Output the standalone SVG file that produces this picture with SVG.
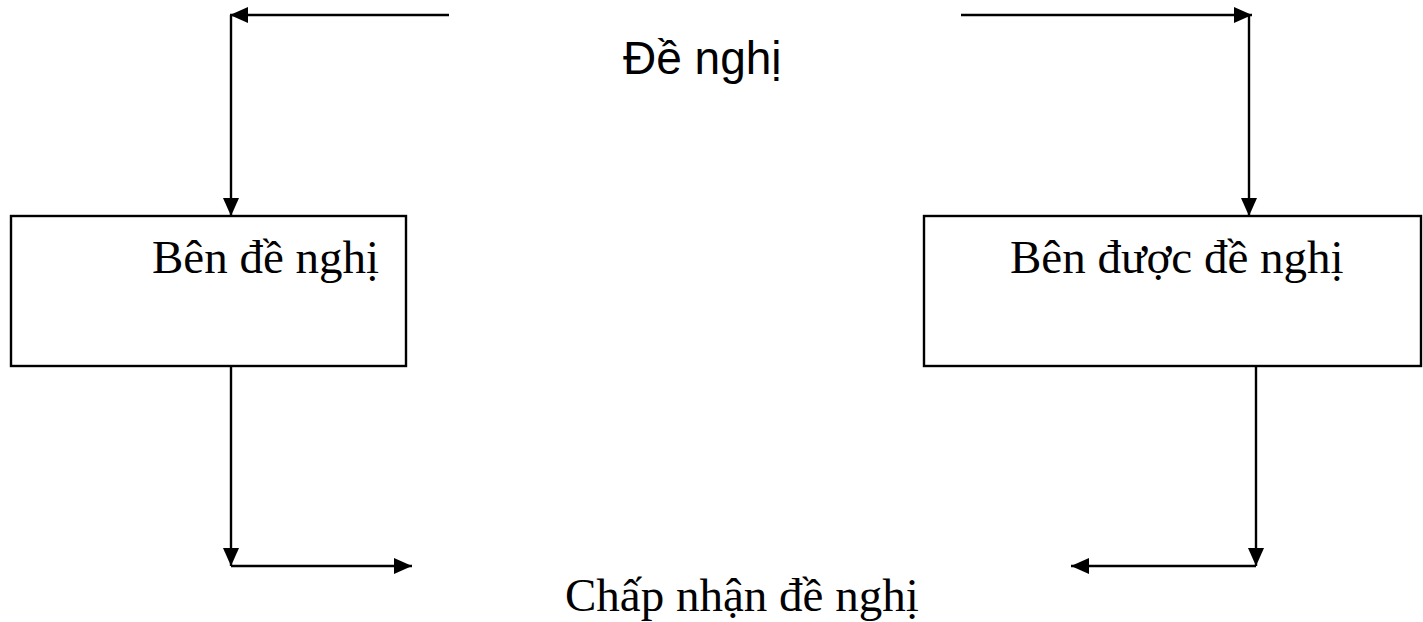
<svg xmlns="http://www.w3.org/2000/svg" width="1423" height="622" viewBox="0 0 1423 622">
<style>
.ln{fill:none;stroke:#000;stroke-width:2.4}
.box{fill:#fff;stroke:#000;stroke-width:2.4}
.serif{font-family:"Liberation Serif","Times New Roman",serif;font-size:47px;fill:#000}
.sans{font-family:"Liberation Sans",Arial,sans-serif;font-size:46px;fill:#000}
</style>
<defs>
<marker id="ah" viewBox="0 0 18 16" refX="18" refY="8" markerWidth="18" markerHeight="16" markerUnits="userSpaceOnUse" orient="auto">
<path d="M0,0 L18,8 L0,16 Z" fill="#000"/>
</marker>
</defs>
<g id="connectors">
<path class="ln" d="M449,15 L230,15" marker-end="url(#ah)"/>
<path class="ln" d="M231,15 L231,216" marker-end="url(#ah)"/>
<path class="ln" d="M961,15 L1252,15" marker-end="url(#ah)"/>
<path class="ln" d="M1249,15 L1249,216" marker-end="url(#ah)"/>
<path class="ln" d="M231,366 L231,566" marker-end="url(#ah)"/>
<path class="ln" d="M231,566 L412,566" marker-end="url(#ah)"/>
<path class="ln" d="M1256,366 L1256,566" marker-end="url(#ah)"/>
<path class="ln" d="M1256,566 L1071,566" marker-end="url(#ah)"/>
</g>
<g id="label-de-nghi">
<text class="sans" x="623" y="74">Đề nghị</text>
</g>
<g id="node-ben-de-nghi">
<rect class="box" x="11" y="216" width="395" height="150"/>
<text class="serif" x="152" y="273">Bên đề nghị</text>
</g>
<g id="node-ben-duoc-de-nghi">
<rect class="box" x="924" y="216" width="497" height="150"/>
<text class="serif" x="1010" y="273">Bên được đề nghị</text>
</g>
<g id="label-chap-nhan">
<text class="serif" x="565" y="611">Chấp nhận đề nghị</text>
</g>
</svg>
